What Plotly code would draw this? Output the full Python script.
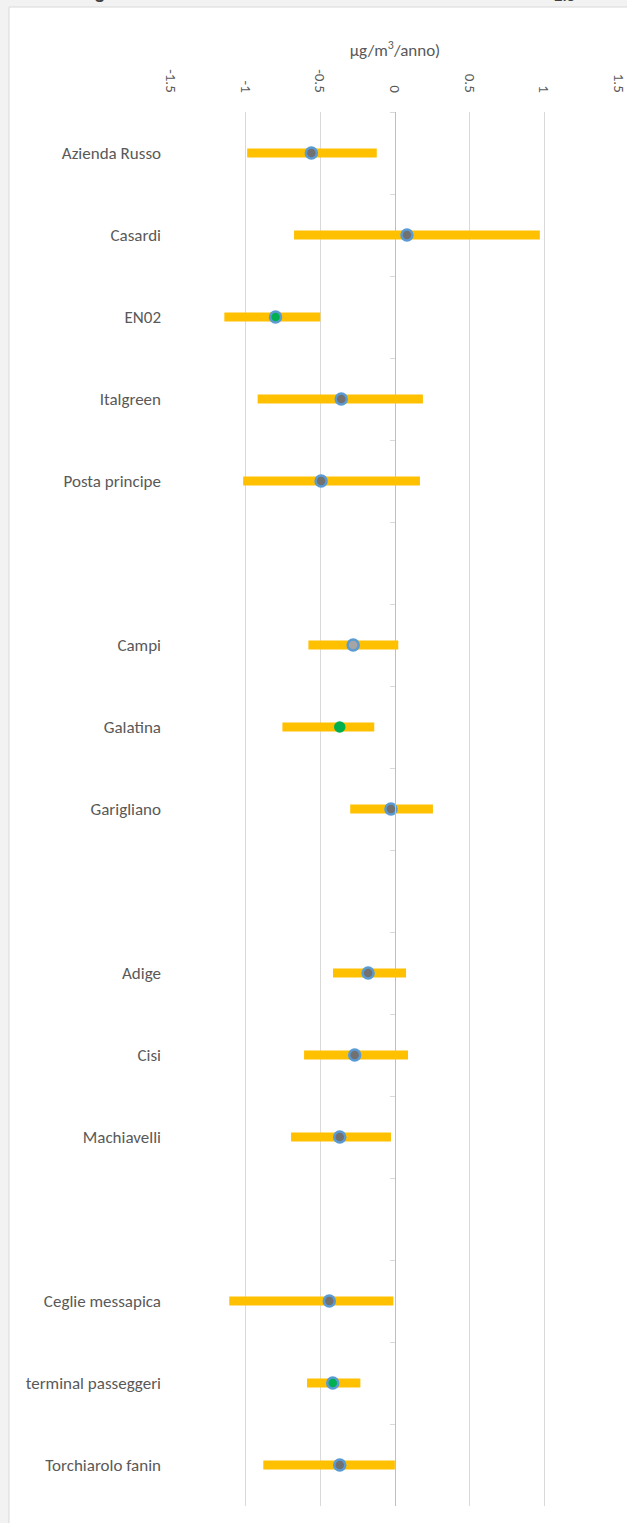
import plotly.graph_objects as go

# ---- data ----
slots = ["Azienda Russo", "Casardi", "EN02", "Italgreen", "Posta principe", " ",
         "Campi", "Galatina", "Garigliano", "  ",
         "Adige", "Cisi", "Machiavelli", "   ",
         "Ceglie messapica", "terminal passeggeri", "Torchiarolo fanin"]
stations = ["Azienda Russo", "Casardi", "EN02", "Italgreen", "Posta principe",
            "Campi", "Galatina", "Garigliano",
            "Adige", "Cisi", "Machiavelli",
            "Ceglie messapica", "terminal passeggeri", "Torchiarolo fanin"]
trend = [-0.56, 0.08, -0.80, -0.36, -0.495,
         -0.28, -0.37, -0.027,
         -0.18, -0.27, -0.37,
         -0.44, -0.417, -0.37]
lower = [-0.99, -0.676, -1.143, -0.92, -1.017,
         -0.58, -0.754, -0.30,
         -0.415, -0.609, -0.696,
         -1.11, -0.589, -0.882]
upper = [-0.122, 0.97, -0.50, 0.187, 0.167,
         0.022, -0.139, 0.254,
         0.074, 0.087, -0.027,
         -0.011, -0.232, -0.001]
x_ticks = [-1.5, -1, -0.5, 0, 0.5, 1, 1.5]
x_ticktext = ["-1.5", "-1", "-0.5", "0", "0.5", "1", "1.5"]

# ---- styles ----
GRAY = "#717171"
LIGHT = "#A5A5A5"
GREEN = "#00B050"
BLUE = "#5B9BD5"
fill = [GRAY, GRAY, GREEN, GRAY, GRAY, LIGHT, GREEN, GRAY, GRAY, GRAY, GRAY, GRAY, GREEN, GRAY]
edge = [BLUE] * 14
edge[6] = GREEN
msize = [11] * 14
msize[6] = 9

FONT = "Carlito, 'Liberation Sans Narrow', Lato, sans-serif"
TXT = "#595959"

fig = go.Figure()

# helper traces so that every slot (including blank spacer slots) exists on both axes
fig.add_trace(go.Scatter(x=[None] * len(slots), y=slots, mode="markers",
                         showlegend=False, hoverinfo="skip", yaxis="y"))
fig.add_trace(go.Scatter(x=[None] * len(slots), y=slots, mode="markers",
                         showlegend=False, hoverinfo="skip", yaxis="y2"))

fig.add_trace(go.Scatter(
    x=trend, y=stations, mode="markers", showlegend=False,
    marker=dict(size=msize, color=fill, opacity=1, line=dict(color=edge, width=2.5)),
    error_x=dict(type="data", symmetric=False,
                 array=[u - t for u, t in zip(upper, trend)],
                 arrayminus=[t - l for t, l in zip(trend, lower)],
                 color="#FFC000", thickness=9, width=0),
    yaxis="y",
))

rng = [len(slots) - 0.5, -0.5]

fig.update_layout(
    width=627, height=1523,
    margin=dict(l=171, r=8, t=112, b=17, autoexpand=False),
    paper_bgcolor="#F2F2F2",
    plot_bgcolor="rgba(0,0,0,0)",
    font=dict(family=FONT, color=TXT, size=14),
    xaxis=dict(
        range=[-1.5002, 1.5002], side="top", tickvals=x_ticks, ticktext=x_ticktext,
        tickangle=90, showgrid=True, gridcolor="#D9D9D9", gridwidth=1,
        zeroline=False, showline=False, ticks="", ticklabelstandoff=16,
        ticklabeloverflow="allow", automargin=False,
        tickfont=dict(size=15, color=TXT, family=FONT),
        title=dict(text="µg/m<sup>3</sup>/anno)", font=dict(size=17, color=TXT, family=FONT),
                   standoff=8),
    ),
    yaxis=dict(
        type="category", categoryorder="array", categoryarray=slots, range=rng,
        showgrid=False, zeroline=False, showline=False, ticks="", automargin=False,
        tickfont=dict(size=17, color=TXT, family=FONT), ticklabelstandoff=9,
    ),
    yaxis2=dict(
        type="category", categoryorder="array", categoryarray=slots, range=rng,
        overlaying="y", anchor="free", position=0.5, side="left", automargin=False,
        showgrid=False, zeroline=False, showline=True, linecolor="#BFBFBF", linewidth=1,
        ticks="outside", tickson="boundaries", ticklen=5, tickcolor="#D9D9D9",
        showticklabels=False,
    ),
    shapes=[dict(type="rect", xref="paper", yref="paper", layer="below",
                 x0=-0.3616, x1=1.03, y0=-0.02, y1=1.0753,
                 fillcolor="white", line=dict(color="#D9D9D9", width=1))],
    annotations=[
        dict(text="<b>g</b>", xref="paper", yref="paper", x=-0.158, y=1.0760,
             xanchor="center", yanchor="bottom", showarrow=False,
             font=dict(size=20, color="#404040", family=FONT)),
        dict(text="2.5", xref="paper", yref="paper", x=0.88, y=1.0746,
             xanchor="center", yanchor="bottom", showarrow=False,
             font=dict(size=17, color="#404040", family=FONT)),
    ],
)

fig.write_html("out.html")
